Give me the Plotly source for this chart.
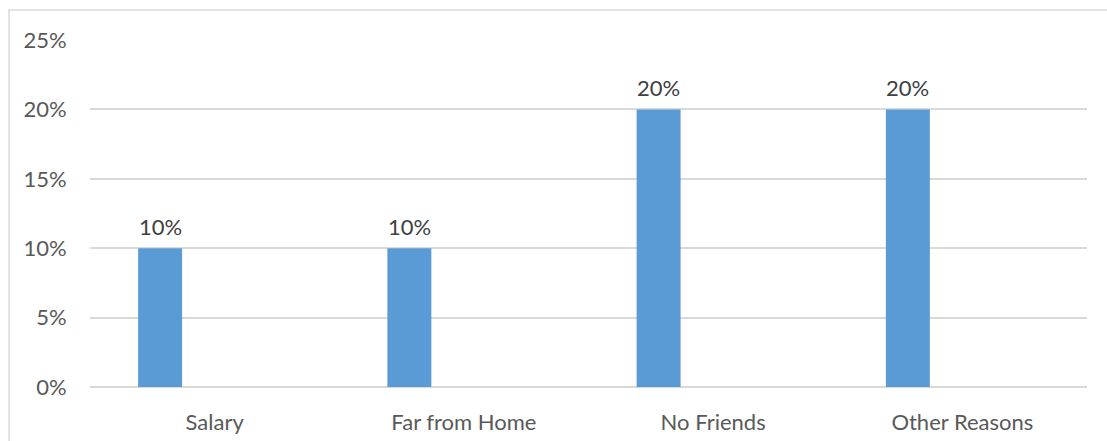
import plotly.graph_objects as go

categories = ["Salary", "Far from Home", "No Friends", "Other Reasons"]
values = [0.10, 0.10, 0.20, 0.20]
y_ticks = [0, 0.05, 0.10, 0.15, 0.20, 0.25]

BAR_OFFSET = -0.307
BAR_WIDTH = 0.1765
FONT = "Lato"

fig = go.Figure()
fig.add_trace(go.Bar(
    x=categories, y=values,
    offset=BAR_OFFSET, width=BAR_WIDTH,
    marker=dict(color="#5B9BD5", line=dict(width=0)),
    hoverinfo="skip",
))

for i, v in enumerate(values):
    fig.add_annotation(
        x=i + BAR_OFFSET + BAR_WIDTH / 2, y=v, xref="x", yref="y",
        text=f"{v:.0%}", showarrow=False, yanchor="bottom", yshift=6,
        font=dict(family=FONT, size=22, color="#404040"),
    )

L, R, T, B = 90, 20, 40, 54
W, H = 1107, 441
pw, ph = W - L - R, H - T - B
fig.add_shape(
    type="rect", xref="paper", yref="paper",
    x0=(9 - L) / pw, x1=(W + 5 - L) / pw,
    y0=-(B + 5) / ph, y1=(H - B - 10) / ph,
    line=dict(color="#D9D9D9", width=1.5), fillcolor="rgba(0,0,0,0)", layer="below",
)

fig.update_layout(
    width=W, height=H,
    margin=dict(l=L, r=R, t=T, b=B, autoexpand=False),
    paper_bgcolor="white", plot_bgcolor="white",
    showlegend=False,
    font=dict(family=FONT, size=22, color="#595959"),
    xaxis=dict(
        type="category", showgrid=False, showline=False, zeroline=False,
        automargin=False,
        ticks="outside", ticklen=16, tickcolor="rgba(0,0,0,0)",
        tickfont=dict(family=FONT, size=22, color="#595959"),
        range=[-0.5, len(categories) - 0.5],
    ),
    yaxis=dict(
        range=[0, 0.25], tickvals=y_ticks, tickformat=".0%",
        automargin=False,
        showgrid=True, gridcolor="#D9D9D9", gridwidth=1.5,
        zeroline=True, zerolinecolor="#D9D9D9", zerolinewidth=1.5,
        showline=False,
        ticks="outside", ticklen=18, tickcolor="rgba(0,0,0,0)",
        tickfont=dict(family=FONT, size=22, color="#595959"),
    ),
)

fig.write_html("out.html")
